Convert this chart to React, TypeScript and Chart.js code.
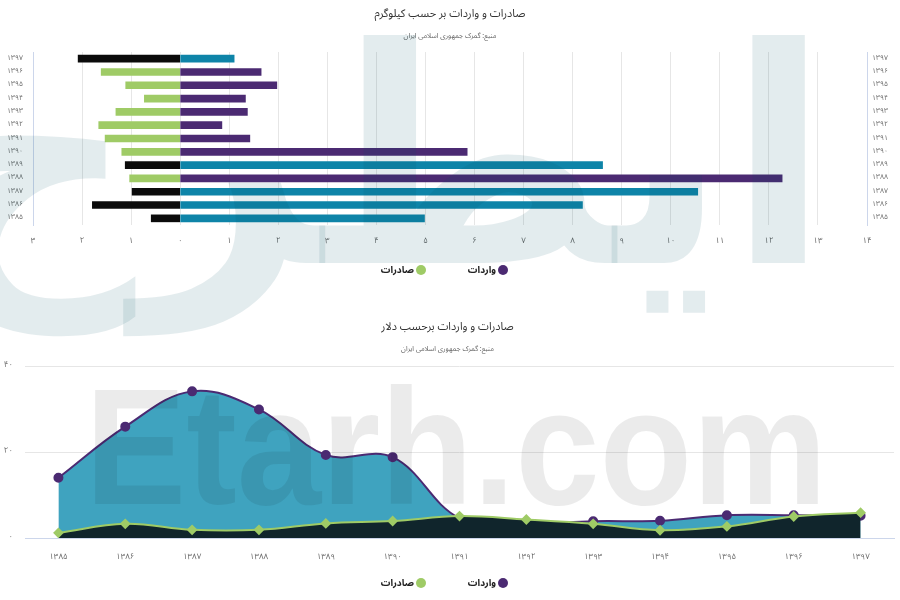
import React, { useEffect, useRef } from 'react';
import { Chart, registerables } from 'chart.js';
Chart.register(...registerables);

// ---------- data ----------
const years = ['۱۳۸۵', '۱۳۸۶', '۱۳۸۷', '۱۳۸۸', '۱۳۸۹', '۱۳۹۰', '۱۳۹۱', '۱۳۹۲', '۱۳۹۳', '۱۳۹۴', '۱۳۹۵', '۱۳۹۶', '۱۳۹۷'];
const kgImports = [4.98, 8.2, 10.55, 12.27, 8.61, 5.85, 1.42, 0.85, 1.37, 1.33, 1.97, 1.65, 1.1];
const kgExports = [0.59, 1.79, 0.98, 1.03, 1.12, 1.19, 1.53, 1.66, 1.31, 0.73, 1.11, 1.61, 2.08];
const usdImports = [14.0, 25.9, 34.1, 29.9, 19.3, 18.8, 4.6, 3.3, 3.9, 4.0, 5.3, 5.3, 5.2];
const usdExports = [1.2, 3.3, 1.9, 1.9, 3.4, 3.95, 5.1, 4.3, 3.3, 1.8, 2.7, 5.0, 5.9];
const kgAxisRange = [-3, 14];
const usdAxisRange = [0, 40];
const seriesNames = ['واردات', 'صادرات'];
const titleKg = 'صادرات و واردات بر حسب کیلوگرم';
const titleUsd = 'صادرات و واردات برحسب دلار';
const sourceText = 'منبع: گمرک جمهوری اسلامی ایران';
const darkPairYears = ['۱۳۸۵', '۱۳۸۶', '۱۳۸۷', '۱۳۸۹', '۱۳۹۷'];

// ---------- style ----------
const FONT = "'Noto Sans Arabic', 'DejaVu Sans Condensed', 'DejaVu Sans', sans-serif";
const PURPLE = '#4b2a72';
const GREEN = '#9fcb66';
const TEAL = '#0e84a8';
const BLACK = '#0b0b0b';
const AREA_TEAL = '#3fa3bf';
const AREA_DARK = '#10252c';
const GRID = '#e6e6e6';
const AXIS = '#ccd6eb';
const legendColors = [PURPLE, GREEN];

const faDigits = '۰۱۲۳۴۵۶۷۸۹';
const toFa = (n: number) => String(n).replace(/\d/g, (d) => faDigits[Number(d)]);

function Legend({ top }: { top: number }) {
  const centers = [503, 421];
  return (
    <>
      {seriesNames.map((name, i) => (
        <React.Fragment key={name}>
          <div
            style={{
              position: 'absolute', left: centers[i] - 5, top: top - 5, width: 10, height: 10,
              borderRadius: '50%', background: legendColors[i],
            }}
          />
          <div
            style={{
              position: 'absolute', right: 900 - (centers[i] - 7), top: top - 7, height: 14, lineHeight: '14px',
              fontFamily: FONT, fontSize: 9.5, fontWeight: 'bold', color: '#222', whiteSpace: 'nowrap', direction: 'rtl',
            }}
          >
            {name}
          </div>
        </React.Fragment>
      ))}
    </>
  );
}

function KgChart() {
  const ref = useRef<HTMLCanvasElement>(null);
  useEffect(() => {
    const labels = [...years].reverse();
    const imp = [...kgImports].reverse();
    const exp = [...kgExports].reverse().map((v) => -v);
    const impColors = labels.map((y) => (darkPairYears.includes(y) ? TEAL : PURPLE));
    const expColors = labels.map((y) => (darkPairYears.includes(y) ? BLACK : GREEN));
    const chart = new Chart(ref.current!, {
      type: 'bar',
      data: {
        labels,
        datasets: [
          { label: seriesNames[0], data: imp, backgroundColor: impColors, barThickness: 7, borderWidth: 0 },
          { label: seriesNames[1], data: exp, backgroundColor: expColors, barThickness: 7, borderWidth: 0 },
        ],
      },
      options: {
        animation: false,
        responsive: false,
        indexAxis: 'y',
        layout: { padding: { top: 0, bottom: 49, left: 0, right: 0 } },
        plugins: {
          title: { display: true, text: titleKg, color: '#333', font: { family: FONT, size: 11, weight: 'normal' }, padding: { top: 8.4, bottom: 11.2 } },
          subtitle: { display: true, text: sourceText, color: '#666', font: { family: FONT, size: 7 }, padding: { top: 0, bottom: 10.8 } },
          legend: { display: false },
          tooltip: { enabled: false },
        },
        scales: {
          x: {
            type: 'linear',
            min: kgAxisRange[0],
            max: kgAxisRange[1],
            stacked: true,
            grid: { color: GRID, drawTicks: false },
            border: { display: false },
            ticks: { stepSize: 1, padding: 12, color: '#666', font: { family: FONT, size: 8 }, callback: (v: any) => toFa(Math.abs(Number(v))) },
            afterFit: (s: any) => { s.height = 26; },
          },
          y: {
            type: 'category',
            position: 'left',
            stacked: true,
            grid: { display: false, drawTicks: false },
            border: { color: AXIS },
            ticks: { autoSkip: false, padding: 10, color: '#666', font: { family: FONT, size: 7 } },
            afterFit: (s: any) => { s.width = 33; },
          },
          y2: {
            type: 'category',
            position: 'right',
            labels,
            grid: { display: false, drawTicks: false },
            border: { color: AXIS },
            ticks: { autoSkip: false, padding: 5, color: '#666', font: { family: FONT, size: 7 } },
            afterFit: (s: any) => { s.width = 33; },
          },
        },
      } as any,
    });
    return () => chart.destroy();
  }, []);
  return <canvas ref={ref} width={900} height={300} style={{ position: 'absolute', left: 0, top: 0, width: 900, height: 300 }} />;
}

function UsdChart() {
  const ref = useRef<HTMLCanvasElement>(null);
  useEffect(() => {
    const chart = new Chart(ref.current!, {
      type: 'line',
      data: {
        labels: years,
        datasets: [
          {
            label: seriesNames[0], data: usdImports, order: 2,
            borderColor: PURPLE, backgroundColor: AREA_TEAL, fill: 'origin', tension: 0.38, borderWidth: 2,
            pointRadius: 4, pointStyle: 'circle', pointBackgroundColor: PURPLE, pointBorderColor: PURPLE,
          },
          {
            label: seriesNames[1], data: usdExports, order: 1,
            borderColor: GREEN, backgroundColor: AREA_DARK, fill: 'origin', tension: 0.38, borderWidth: 2,
            pointRadius: 4, pointStyle: 'rectRot', pointBackgroundColor: GREEN, pointBorderColor: GREEN,
          },
        ],
      },
      options: {
        animation: false,
        responsive: false,
        layout: { padding: { top: 0, bottom: 34, left: 0, right: 5 } },
        plugins: {
          title: { display: true, text: titleUsd, color: '#333', font: { family: FONT, size: 11, weight: 'normal' }, padding: { top: 21.4, bottom: 11.2 } },
          subtitle: { display: true, text: sourceText, color: '#666', font: { family: FONT, size: 7 }, padding: { top: 0, bottom: 11.8 } },
          legend: { display: false },
          tooltip: { enabled: false },
          filler: { drawTime: 'beforeDatasetDraw' },
        },
        scales: {
          x: {
            type: 'category',
            offset: true,
            grid: { display: false, drawTicks: false },
            border: { color: AXIS },
            ticks: { padding: 15, color: '#666', font: { family: FONT, size: 8 } },
            afterFit: (s: any) => { s.height = 28; },
          },
          y: {
            min: usdAxisRange[0],
            max: usdAxisRange[1],
            grid: { color: GRID, drawTicks: false },
            border: { display: false },
            ticks: { stepSize: 20, padding: 12, color: '#666', font: { family: FONT, size: 8 }, callback: (v: any) => toFa(Number(v)) },
            afterFit: (s: any) => { s.width = 25; },
          },
        },
      } as any,
    });
    return () => chart.destroy();
  }, []);
  return <canvas ref={ref} width={900} height={300} style={{ position: 'absolute', left: 0, top: 300, width: 900, height: 300 }} />;
}

export default function App() {
  useEffect(() => {
    document.body.style.margin = '0';
    document.body.style.background = '#fff';
  }, []);
  return (
    <div style={{ position: 'relative', width: 900, height: 600, overflow: 'hidden', background: '#fff' }}>
      <KgChart />
      <UsdChart />
      <Legend top={270} />
      <Legend top={583} />
      <div
        style={{
          position: 'absolute', right: 70, top: 10, fontFamily: "'DejaVu Sans', sans-serif", fontWeight: 'bold',
          fontSize: 300, lineHeight: 1, color: 'rgba(0,80,100,0.11)', pointerEvents: 'none', whiteSpace: 'nowrap', direction: 'rtl',
        }}
      >
        ایطرح
      </div>
      <div
        style={{
          position: 'absolute', left: 85, top: 365, fontFamily: "'Liberation Sans', Arial, sans-serif", fontWeight: 'bold',
          fontSize: 165, lineHeight: 1, color: 'rgba(0,0,0,0.08)', pointerEvents: 'none', whiteSpace: 'nowrap',
          transform: 'scaleX(0.92)', transformOrigin: 'left top',
        }}
      >
        Etarh.com
      </div>
    </div>
  );
}
